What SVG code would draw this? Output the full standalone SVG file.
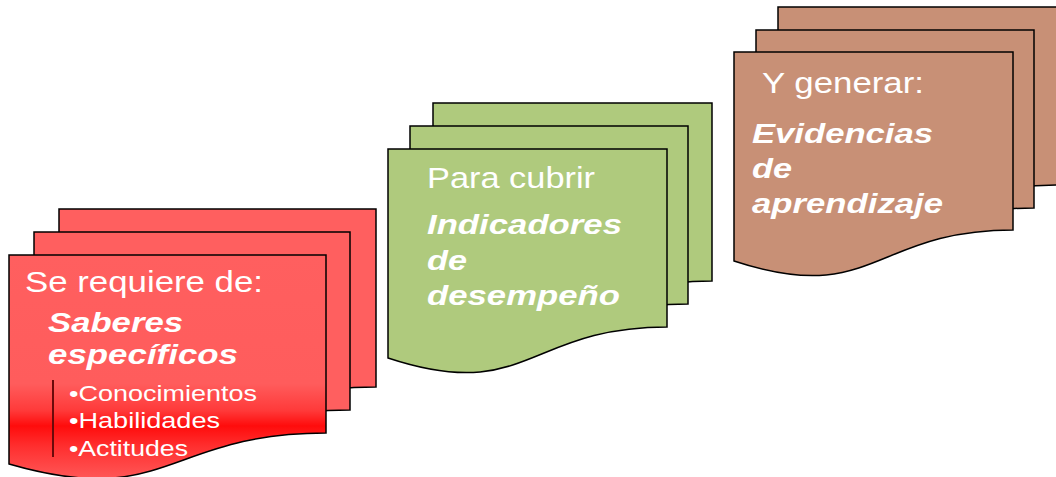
<svg xmlns="http://www.w3.org/2000/svg" width="1056" height="477" viewBox="0 0 1056 477">
  <defs>
    <linearGradient id="redGrad" gradientUnits="userSpaceOnUse" x1="0" y1="255" x2="0" y2="477">
      <stop offset="0" stop-color="#FF5F5F"/>
      <stop offset="0.58" stop-color="#FF5C5C"/>
      <stop offset="0.70" stop-color="#FF3A3A"/>
      <stop offset="0.77" stop-color="#FF0C0C"/>
      <stop offset="0.86" stop-color="#FF2E2E"/>
      <stop offset="1" stop-color="#FF5555"/>
    </linearGradient>
  </defs>
  <style>
    .sheet { stroke: #000; stroke-width: 1.5; stroke-linejoin: miter; }
    .red { fill: #FF5F5F; }
    .green { fill: #AFCA7D; }
    .brown { fill: #C89076; }
    .t { font-family: "Liberation Sans", Arial, sans-serif; fill: #FFFFFF; }
    .reg { font-size: 29px; }
    .bi { font-size: 28px; font-weight: bold; font-style: italic; }
    .bul { font-size: 22px; }
  </style>

  <g id="node-saberes">
    <path class="sheet red" d="M59,209 H376 V387 C217.5,387 217.5,464 59,418 Z"/>
    <path class="sheet red" d="M34,232 H350 V410 C192,410 192,487 34,441 Z"/>
    <path class="sheet" fill="url(#redGrad)" d="M9,255 H326 V433 C167.5,433 167.5,510 9,464 Z"/>
    <text class="t reg" x="25" y="292" textLength="238" lengthAdjust="spacingAndGlyphs">Se requiere de:</text>
    <text class="t bi" x="48" y="332" textLength="135" lengthAdjust="spacingAndGlyphs">Saberes</text>
    <text class="t bi" x="48" y="364" textLength="190" lengthAdjust="spacingAndGlyphs">específicos</text>
    <line x1="53" y1="380" x2="53" y2="457" stroke="#6B0A0A" stroke-width="2"/>
    <text class="t bul" x="69" y="401" textLength="188" lengthAdjust="spacingAndGlyphs">•Conocimientos</text>
    <text class="t bul" x="69" y="428" textLength="151" lengthAdjust="spacingAndGlyphs">•Habilidades</text>
    <text class="t bul" x="69" y="456" textLength="119" lengthAdjust="spacingAndGlyphs">•Actitudes</text>
  </g>

  <g id="node-indicadores">
    <path class="sheet green" d="M433,103 H712 V281 C572.5,281 572.5,358 433,312 Z"/>
    <path class="sheet green" d="M410,126 H688 V304 C549,304 549,381 410,335 Z"/>
    <path class="sheet green" d="M388,149 H667 V327 C527.5,327 527.5,404 388,358 Z"/>
    <text class="t reg" x="427" y="188" textLength="168" lengthAdjust="spacingAndGlyphs">Para cubrir</text>
    <text class="t bi" x="427" y="234" textLength="195" lengthAdjust="spacingAndGlyphs">Indicadores</text>
    <text class="t bi" x="427" y="270" textLength="40" lengthAdjust="spacingAndGlyphs">de</text>
    <text class="t bi" x="427" y="305" textLength="193" lengthAdjust="spacingAndGlyphs">desempeño</text>
  </g>

  <g id="node-evidencias">
    <path class="sheet brown" d="M778,7 H1057 V185 C917.5,185 917.5,262 778,216 Z"/>
    <path class="sheet brown" d="M756,30 H1034 V208 C895,208 895,285 756,239 Z"/>
    <path class="sheet brown" d="M734,52 H1013 V230 C873.5,230 873.5,307 734,261 Z"/>
    <text class="t reg" x="762" y="93" textLength="162" lengthAdjust="spacingAndGlyphs">Y generar:</text>
    <text class="t bi" x="752" y="143" textLength="181" lengthAdjust="spacingAndGlyphs">Evidencias</text>
    <text class="t bi" x="752" y="178" textLength="40" lengthAdjust="spacingAndGlyphs">de</text>
    <text class="t bi" x="752" y="213" textLength="191" lengthAdjust="spacingAndGlyphs">aprendizaje</text>
  </g>

  <g id="connectors"/>
</svg>
